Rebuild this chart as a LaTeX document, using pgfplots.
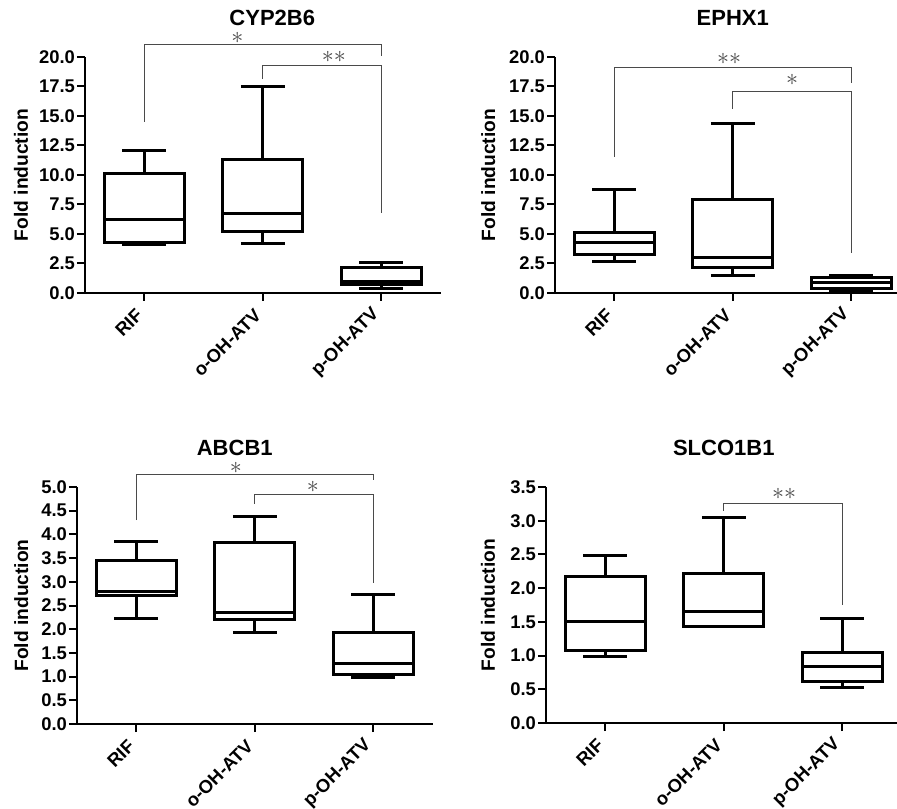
\documentclass[border=0pt]{standalone}
\usepackage{fontspec}
\setmainfont{Liberation Sans}
\usepackage{pgfplots}
\pgfplotsset{compat=1.18}
\usepgfplotslibrary{statistics}
\definecolor{brk}{HTML}{4A4A4A}

\pgfplotsset{
  panel/.style={
    scale only axis, width=177.75pt, height=118pt,
    anchor=south west, clip=false,
    axis lines=left, axis line style={-, line width=1pt},
    xmin=-0.5, xmax=2.5, xtick={0,1,2},
    xticklabels={RIF,o-OH-ATV,p-OH-ATV},
    tick align=outside, major tick length=4pt,
    every tick/.style={black, line width=1pt},
    yticklabel style={font=\bfseries\fontsize{9.2}{10}\selectfont,
      /pgf/number format/fixed, /pgf/number format/fixed zerofill,
      /pgf/number format/precision=1, /pgf/number format/assume math mode=true},
    yticklabel shift=-2.5pt,
    xticklabel style={rotate=45, anchor=east, font=\bfseries\fontsize{9.2}{10}\selectfont},
    xticklabel shift=3pt,
    ymin=0,
    ylabel={Fold induction},
    ylabel style={font=\bfseries\fontsize{9.6}{11}\selectfont, anchor=center},
    every axis title/.style={at={(axis description cs:0.5,1)}, anchor=center, yshift=19.5pt,
      font=\bfseries\fontsize{11}{13}\selectfont},
    boxplot/draw direction=y,
    boxplot/box extend=0.675, boxplot/whisker extend=0.37,
  },
  bx/.style={black, line width=1.5pt, solid, mark=none},
}
\tikzset{
  br/.style={brk, line width=0.5pt},
  st/.style={brk, font=\fontsize{12}{13}\selectfont, inner sep=0pt},
}

\begin{document}
\begin{tikzpicture}
% CYP2B6
\begin{axis}[panel, at={(42.5pt,257.5pt)}, ymax=20, ytick={0,2.5,...,20},
  title={CYP2B6}, title style={xshift=4.75pt},
  ylabel style={at={(axis description cs:-0.18,0.5)}}]
\addplot[bx, boxplot prepared={draw position=0, lower whisker=4.15, lower quartile=4.3, median=6.2, upper quartile=10.1, upper whisker=12.1}] coordinates {};
\addplot[bx, boxplot prepared={draw position=1, lower whisker=4.17, lower quartile=5.25, median=6.75, upper quartile=11.3, upper whisker=17.5}] coordinates {};
\addplot[bx, boxplot prepared={draw position=2, lower whisker=0.4, lower quartile=0.68, median=1.0, upper quartile=2.15, upper whisker=2.6}] coordinates {};
\draw[br] (axis cs:0,14.5) |- (axis cs:2,21.04) -- (axis cs:2,20.06);
\draw[br] (axis cs:1,18.17) |- (axis cs:2,19.3) -- (axis cs:2,6.76);
\node[st] at (axis cs:0.785,21.6) {$\ast$};
\node[st] at (axis cs:1.6,20.0) {$\ast\ast$};
\end{axis}
% EPHX1
\begin{axis}[panel, at={(277.5pt,257.5pt)}, ymax=20, ytick={0,2.5,...,20},
  title={EPHX1},
  ylabel style={at={(axis description cs:-0.188,0.5)}}]
\addplot[bx, boxplot prepared={draw position=0, lower whisker=2.68, lower quartile=3.3, median=4.28, upper quartile=5.15, upper whisker=8.73}] coordinates {};
\addplot[bx, boxplot prepared={draw position=1, lower whisker=1.49, lower quartile=2.2, median=3.0, upper quartile=7.94, upper whisker=14.4}] coordinates {};
\addplot[bx, boxplot prepared={draw position=2, lower whisker=0.1, lower quartile=0.34, median=0.85, upper quartile=1.3, upper whisker=1.45}] coordinates {};
\draw[br] (axis cs:0,11.55) |- (axis cs:2,19.15) -- (axis cs:2,17.8);
\draw[br] (axis cs:1,15.6) |- (axis cs:2,17.1) -- (axis cs:2,3.38);
\node[st] at (axis cs:0.97,19.83) {$\ast\ast$};
\node[st] at (axis cs:1.5,18.05) {$\ast$};
\end{axis}
% ABCB1
\begin{axis}[panel, at={(38.5pt,42pt)}, height=118.5pt, ymax=5, ytick={0,0.5,...,5},
  title={ABCB1}, title style={xshift=-10pt},
  ylabel style={at={(axis description cs:-0.157,0.5)}}]
\addplot[bx, boxplot prepared={draw position=0, lower whisker=2.22, lower quartile=2.72, median=2.8, upper quartile=3.44, upper whisker=3.84}] coordinates {};
\addplot[bx, boxplot prepared={draw position=1, lower whisker=1.94, lower quartile=2.21, median=2.35, upper quartile=3.82, upper whisker=4.38}] coordinates {};
\addplot[bx, boxplot prepared={draw position=2, lower whisker=0.99, lower quartile=1.04, median=1.28, upper quartile=1.93, upper whisker=2.73}] coordinates {};
\draw[br] (axis cs:0,4.30) |- (axis cs:2,5.26) -- (axis cs:2,5.15);
\draw[br] (axis cs:1,4.65) |- (axis cs:2,4.85) -- (axis cs:2,2.98);
\node[st] at (axis cs:0.84,5.40) {$\ast$};
\node[st] at (axis cs:1.49,5.0) {$\ast$};
\end{axis}
% SLCO1B1
\begin{axis}[panel, at={(273pt,42.5pt)}, ymax=3.5, ytick={0,0.5,...,3.5},
  title={SLCO1B1},
  ylabel style={at={(axis description cs:-0.163,0.5)}}]
\addplot[bx, boxplot prepared={draw position=0, lower whisker=0.98, lower quartile=1.08, median=1.51, upper quartile=2.18, upper whisker=2.49}] coordinates {};
\addplot[bx, boxplot prepared={draw position=1, lower whisker=1.43, lower quartile=1.43, median=1.66, upper quartile=2.21, upper whisker=3.05}] coordinates {};
\addplot[bx, boxplot prepared={draw position=2, lower whisker=0.53, lower quartile=0.61, median=0.84, upper quartile=1.05, upper whisker=1.55}] coordinates {};
\draw[br] (axis cs:1,3.15) |- (axis cs:2,3.26) -- (axis cs:2,1.75);
\node[st] at (axis cs:1.51,3.40) {$\ast\ast$};
\end{axis}
\pgfresetboundingbox
\useasboundingbox (0,0) rectangle (448.5pt,404pt);
\end{tikzpicture}
\end{document}
